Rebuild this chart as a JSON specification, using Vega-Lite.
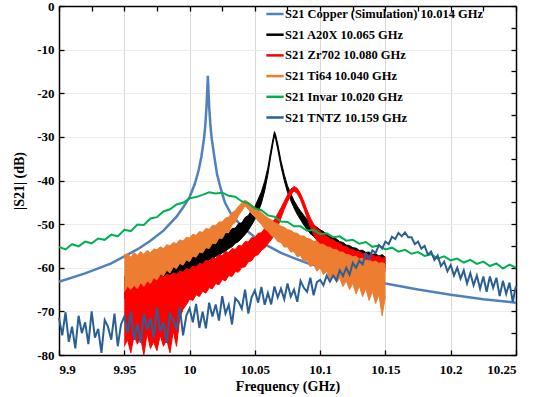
{
"$schema": "https://vega.github.io/schema/vega-lite/v6.json",
"width": 457, "height": 349, "autosize": "none",
"padding": {"left": 59, "top": 6, "right": 27, "bottom": 42},
"background": "white",
"config": {
 "view": {"stroke": null},
 "font": "'Liberation Serif', 'DejaVu Serif', 'Times New Roman', serif",
 "axis": {"domainColor": "#000", "domainWidth": 1.5, "tickColor": "#000", "tickWidth": 1.3, "labelFont": "'Liberation Serif', 'DejaVu Serif', 'Times New Roman', serif", "labelFontWeight": "bold", "labelFontSize": 13, "labelColor": "#000", "titleFont": "'Liberation Serif', 'DejaVu Serif', 'Times New Roman', serif", "titleFontWeight": "bold", "titleFontSize": 14, "titleColor": "#000"}
},
"datasets": {
 "cu": [{"f":9.9,"v":-63.2},{"f":9.92,"v":-61.3},{"f":9.94,"v":-59.0},{"f":9.96,"v":-55.8},{"f":9.97,"v":-53.8},{"f":9.98,"v":-51.5},{"f":9.99,"v":-48.3},{"f":9.995,"v":-46.2},{"f":10.0,"v":-43.8},{"f":10.004,"v":-40.8},{"f":10.007,"v":-37.6},{"f":10.009,"v":-34.6},{"f":10.011,"v":-30.5},{"f":10.012,"v":-27.5},{"f":10.013,"v":-23.0},{"f":10.014,"v":-16.0},{"f":10.015,"v":-23.0},{"f":10.016,"v":-27.5},{"f":10.017,"v":-30.5},{"f":10.019,"v":-34.6},{"f":10.021,"v":-38.5},{"f":10.024,"v":-42.0},{"f":10.027,"v":-45.0},{"f":10.032,"v":-47.8},{"f":10.037,"v":-49.5},{"f":10.043,"v":-51.3},{"f":10.05,"v":-53.0},{"f":10.06,"v":-55.0},{"f":10.07,"v":-56.6},{"f":10.08,"v":-57.8},{"f":10.09,"v":-58.9},{"f":10.1,"v":-59.8},{"f":10.12,"v":-61.5},{"f":10.15,"v":-63.6},{"f":10.175,"v":-65.0},{"f":10.2,"v":-66.2},{"f":10.225,"v":-67.2},{"f":10.25,"v":-68.0}],
 "a20x": [{"f":9.95,"h":-62.0,"l":-67.0},{"f":9.96,"h":-61.5,"l":-66.5},{"f":9.97,"h":-61.0,"l":-65.5},{"f":9.9775,"h":-60.5,"l":-64.5},{"f":9.98,"h":-60.2,"l":-64.0},{"f":9.9825,"h":-59.4,"l":-63.8},{"f":9.985,"h":-59.8,"l":-63.0},{"f":9.9875,"h":-58.7,"l":-62.8},{"f":9.99,"h":-59.0,"l":-62.2},{"f":9.9925,"h":-58.0,"l":-62.0},{"f":9.995,"h":-58.3,"l":-61.4},{"f":9.9975,"h":-57.2,"l":-61.2},{"f":10.0,"h":-57.4,"l":-60.6},{"f":10.0025,"h":-56.4,"l":-60.4},{"f":10.005,"h":-56.6,"l":-59.8},{"f":10.0075,"h":-55.6,"l":-59.6},{"f":10.01,"h":-55.8,"l":-59.0},{"f":10.0125,"h":-54.7,"l":-58.8},{"f":10.015,"h":-54.9,"l":-58.2},{"f":10.0175,"h":-53.9,"l":-58.0},{"f":10.02,"h":-54.0,"l":-57.4},{"f":10.0225,"h":-53.0,"l":-57.1},{"f":10.025,"h":-53.1,"l":-56.6},{"f":10.0275,"h":-52.1,"l":-56.2},{"f":10.03,"h":-52.1,"l":-55.6},{"f":10.0325,"h":-51.0,"l":-55.2},{"f":10.035,"h":-50.9,"l":-54.4},{"f":10.0375,"h":-49.9,"l":-54.0},{"f":10.04,"h":-49.7,"l":-53.2},{"f":10.0425,"h":-48.5,"l":-52.4},{"f":10.045,"h":-48.0,"l":-51.4},{"f":10.0475,"h":-46.8,"l":-50.2},{"f":10.05,"h":-46.0,"l":-48.9},{"f":10.0525,"h":-44.3,"l":-47.2},{"f":10.055,"h":-42.6,"l":-45.2},{"f":10.0575,"h":-40.2,"l":-42.4},{"f":10.06,"h":-37.0,"l":-38.6},{"f":10.062,"h":-33.5,"l":-34.8},{"f":10.064,"h":-30.3,"l":-31.3},{"f":10.065,"h":-28.8,"l":-29.8},{"f":10.066,"h":-29.6,"l":-30.6},{"f":10.0675,"h":-31.6,"l":-32.8},{"f":10.07,"h":-35.5,"l":-36.8},{"f":10.0725,"h":-38.6,"l":-40.0},{"f":10.075,"h":-41.2,"l":-42.7},{"f":10.0775,"h":-43.0,"l":-44.6},{"f":10.08,"h":-44.6,"l":-46.3},{"f":10.0825,"h":-45.9,"l":-47.8},{"f":10.085,"h":-47.0,"l":-49.0},{"f":10.0875,"h":-48.0,"l":-50.2},{"f":10.09,"h":-48.8,"l":-51.2},{"f":10.0925,"h":-49.5,"l":-52.2},{"f":10.095,"h":-50.2,"l":-52.8},{"f":10.0975,"h":-50.7,"l":-53.6},{"f":10.1,"h":-51.3,"l":-54.0},{"f":10.1025,"h":-51.7,"l":-54.7},{"f":10.105,"h":-52.3,"l":-55.0},{"f":10.1075,"h":-52.6,"l":-55.6},{"f":10.11,"h":-53.2,"l":-55.8},{"f":10.1125,"h":-53.4,"l":-56.5},{"f":10.115,"h":-54.0,"l":-56.6},{"f":10.1175,"h":-54.2,"l":-57.2},{"f":10.12,"h":-54.8,"l":-57.2},{"f":10.1225,"h":-54.9,"l":-57.9},{"f":10.125,"h":-55.4,"l":-57.8},{"f":10.1275,"h":-55.5,"l":-58.5},{"f":10.13,"h":-56.0,"l":-58.4},{"f":10.1325,"h":-56.0,"l":-59.0},{"f":10.135,"h":-56.5,"l":-58.8},{"f":10.1375,"h":-56.4,"l":-59.5},{"f":10.14,"h":-56.9,"l":-59.2},{"f":10.1425,"h":-56.8,"l":-59.9},{"f":10.145,"h":-57.3,"l":-59.6},{"f":10.1475,"h":-57.0,"l":-60.3},{"f":10.15,"h":-57.6,"l":-60.0}],
 "zr": [{"f":9.95,"h":-63.5,"l":-78.0},{"f":9.9525,"h":-63.0,"l":-76.5},{"f":9.955,"h":-63.6,"l":-79.5},{"f":9.9575,"h":-62.8,"l":-75.5},{"f":9.96,"h":-63.2,"l":-77.5},{"f":9.9625,"h":-62.5,"l":-76.0},{"f":9.965,"h":-63.0,"l":-80.0},{"f":9.9675,"h":-62.3,"l":-75.0},{"f":9.97,"h":-62.7,"l":-78.5},{"f":9.9725,"h":-62.0,"l":-77.0},{"f":9.975,"h":-62.4,"l":-79.0},{"f":9.9775,"h":-61.8,"l":-75.5},{"f":9.98,"h":-62.2,"l":-78.0},{"f":9.9825,"h":-61.5,"l":-76.5},{"f":9.985,"h":-61.8,"l":-79.5},{"f":9.9875,"h":-61.2,"l":-74.5},{"f":9.99,"h":-61.5,"l":-78.0},{"f":9.9925,"h":-60.8,"l":-71.5},{"f":9.995,"h":-61.0,"l":-69.5},{"f":9.9975,"h":-60.2,"l":-68.5},{"f":10.0,"h":-60.4,"l":-67.2},{"f":10.0025,"h":-59.6,"l":-67.5},{"f":10.005,"h":-59.8,"l":-66.2},{"f":10.0075,"h":-59.0,"l":-66.6},{"f":10.01,"h":-59.2,"l":-65.4},{"f":10.0125,"h":-58.3,"l":-65.8},{"f":10.015,"h":-58.5,"l":-64.6},{"f":10.0175,"h":-57.7,"l":-64.8},{"f":10.02,"h":-57.9,"l":-63.6},{"f":10.0225,"h":-57.0,"l":-63.9},{"f":10.025,"h":-57.2,"l":-62.7},{"f":10.0275,"h":-56.3,"l":-63.0},{"f":10.03,"h":-56.5,"l":-61.8},{"f":10.0325,"h":-55.6,"l":-62.0},{"f":10.035,"h":-55.8,"l":-60.9},{"f":10.0375,"h":-54.9,"l":-61.0},{"f":10.04,"h":-55.0,"l":-59.9},{"f":10.0425,"h":-54.0,"l":-59.8},{"f":10.045,"h":-54.1,"l":-58.6},{"f":10.0475,"h":-53.1,"l":-58.4},{"f":10.05,"h":-53.1,"l":-57.3},{"f":10.0525,"h":-52.1,"l":-57.0},{"f":10.055,"h":-52.0,"l":-56.0},{"f":10.0575,"h":-51.0,"l":-55.5},{"f":10.06,"h":-50.8,"l":-54.5},{"f":10.0625,"h":-49.8,"l":-53.6},{"f":10.065,"h":-49.0,"l":-52.4},{"f":10.0675,"h":-47.6,"l":-50.6},{"f":10.07,"h":-46.3,"l":-48.6},{"f":10.0725,"h":-44.8,"l":-46.6},{"f":10.075,"h":-43.3,"l":-44.9},{"f":10.0775,"h":-42.0,"l":-43.3},{"f":10.08,"h":-41.4,"l":-42.4},{"f":10.0825,"h":-41.8,"l":-43.0},{"f":10.085,"h":-43.0,"l":-44.4},{"f":10.0875,"h":-44.8,"l":-46.4},{"f":10.09,"h":-46.8,"l":-48.5},{"f":10.0925,"h":-48.6,"l":-50.6},{"f":10.095,"h":-50.0,"l":-52.3},{"f":10.0975,"h":-51.0,"l":-53.8},{"f":10.1,"h":-51.6,"l":-54.8},{"f":10.1025,"h":-52.3,"l":-55.8},{"f":10.105,"h":-52.7,"l":-56.3},{"f":10.1075,"h":-53.3,"l":-57.0},{"f":10.11,"h":-53.6,"l":-57.2},{"f":10.1125,"h":-54.2,"l":-57.9},{"f":10.115,"h":-54.4,"l":-58.0},{"f":10.1175,"h":-55.0,"l":-58.7},{"f":10.12,"h":-55.1,"l":-58.7},{"f":10.1225,"h":-55.7,"l":-59.4},{"f":10.125,"h":-55.8,"l":-59.3},{"f":10.1275,"h":-56.3,"l":-60.0},{"f":10.13,"h":-56.3,"l":-59.8},{"f":10.1325,"h":-56.8,"l":-60.5},{"f":10.135,"h":-56.7,"l":-60.2},{"f":10.1375,"h":-57.2,"l":-60.8},{"f":10.14,"h":-57.0,"l":-60.4},{"f":10.1425,"h":-57.5,"l":-61.0},{"f":10.145,"h":-57.3,"l":-60.6},{"f":10.1475,"h":-57.8,"l":-61.2},{"f":10.15,"h":-57.6,"l":-60.8}],
 "ti": [{"f":9.95,"h":-57.0,"l":-65.5},{"f":9.9525,"h":-56.8,"l":-64.2},{"f":9.955,"h":-57.6,"l":-65.0},{"f":9.9575,"h":-56.5,"l":-64.0},{"f":9.96,"h":-57.2,"l":-64.8},{"f":9.9625,"h":-56.3,"l":-63.4},{"f":9.965,"h":-56.9,"l":-64.3},{"f":9.9675,"h":-56.0,"l":-63.0},{"f":9.97,"h":-56.6,"l":-63.6},{"f":9.9725,"h":-55.7,"l":-62.3},{"f":9.975,"h":-55.9,"l":-62.8},{"f":9.9775,"h":-55.2,"l":-61.5},{"f":9.98,"h":-55.6,"l":-61.8},{"f":9.9825,"h":-54.7,"l":-60.6},{"f":9.985,"h":-55.0,"l":-61.2},{"f":9.9875,"h":-54.2,"l":-59.8},{"f":9.99,"h":-54.5,"l":-60.2},{"f":9.9925,"h":-53.6,"l":-59.0},{"f":9.995,"h":-53.9,"l":-59.4},{"f":9.9975,"h":-53.0,"l":-58.2},{"f":10.0,"h":-53.2,"l":-58.6},{"f":10.0025,"h":-52.3,"l":-57.3},{"f":10.005,"h":-52.6,"l":-57.6},{"f":10.0075,"h":-51.7,"l":-56.4},{"f":10.01,"h":-51.9,"l":-56.6},{"f":10.0125,"h":-51.0,"l":-55.4},{"f":10.015,"h":-51.2,"l":-55.6},{"f":10.0175,"h":-50.3,"l":-54.4},{"f":10.02,"h":-50.4,"l":-54.5},{"f":10.0225,"h":-49.5,"l":-53.2},{"f":10.025,"h":-49.5,"l":-53.3},{"f":10.0275,"h":-48.6,"l":-51.9},{"f":10.03,"h":-48.4,"l":-51.8},{"f":10.0325,"h":-47.4,"l":-50.2},{"f":10.035,"h":-46.9,"l":-49.6},{"f":10.0375,"h":-45.9,"l":-48.0},{"f":10.04,"h":-45.1,"l":-47.0},{"f":10.0425,"h":-44.5,"l":-45.8},{"f":10.045,"h":-45.0,"l":-46.6},{"f":10.0475,"h":-45.6,"l":-47.6},{"f":10.05,"h":-46.2,"l":-48.3},{"f":10.0525,"h":-46.8,"l":-49.3},{"f":10.055,"h":-47.4,"l":-50.0},{"f":10.0575,"h":-48.0,"l":-51.1},{"f":10.06,"h":-48.6,"l":-51.6},{"f":10.0625,"h":-49.0,"l":-52.6},{"f":10.065,"h":-49.6,"l":-53.0},{"f":10.0675,"h":-49.9,"l":-54.0},{"f":10.07,"h":-50.5,"l":-54.2},{"f":10.0725,"h":-50.7,"l":-55.3},{"f":10.075,"h":-51.3,"l":-55.2},{"f":10.0775,"h":-51.4,"l":-56.4},{"f":10.08,"h":-52.0,"l":-56.3},{"f":10.0825,"h":-52.1,"l":-57.5},{"f":10.085,"h":-52.7,"l":-57.2},{"f":10.0875,"h":-52.7,"l":-58.6},{"f":10.09,"h":-53.3,"l":-58.2},{"f":10.0925,"h":-53.4,"l":-59.8},{"f":10.095,"h":-54.0,"l":-59.2},{"f":10.0975,"h":-54.0,"l":-60.8},{"f":10.1,"h":-54.6,"l":-60.0},{"f":10.1025,"h":-54.6,"l":-61.6},{"f":10.105,"h":-55.2,"l":-60.8},{"f":10.1075,"h":-55.3,"l":-62.6},{"f":10.11,"h":-55.8,"l":-61.6},{"f":10.1125,"h":-55.8,"l":-63.4},{"f":10.115,"h":-56.4,"l":-62.4},{"f":10.1175,"h":-56.4,"l":-64.3},{"f":10.12,"h":-57.0,"l":-63.0},{"f":10.1225,"h":-57.0,"l":-65.0},{"f":10.125,"h":-57.5,"l":-63.6},{"f":10.1275,"h":-57.4,"l":-66.0},{"f":10.13,"h":-58.0,"l":-64.2},{"f":10.1325,"h":-57.8,"l":-66.6},{"f":10.135,"h":-58.3,"l":-64.8},{"f":10.1375,"h":-58.2,"l":-67.5},{"f":10.14,"h":-58.7,"l":-65.4},{"f":10.1425,"h":-58.5,"l":-68.2},{"f":10.145,"h":-59.0,"l":-66.2},{"f":10.1475,"h":-58.8,"l":-71.0},{"f":10.15,"h":-59.2,"l":-66.5}],
 "invar": [{"f":9.9,"v":-55.2},{"f":9.905,"v":-55.8},{"f":9.91,"v":-54.6},{"f":9.915,"v":-55.1},{"f":9.92,"v":-54.0},{"f":9.925,"v":-54.4},{"f":9.93,"v":-53.3},{"f":9.935,"v":-53.6},{"f":9.94,"v":-52.4},{"f":9.945,"v":-52.8},{"f":9.95,"v":-51.3},{"f":9.955,"v":-51.6},{"f":9.96,"v":-50.1},{"f":9.965,"v":-50.2},{"f":9.97,"v":-48.7},{"f":9.975,"v":-48.4},{"f":9.98,"v":-47.1},{"f":9.985,"v":-46.6},{"f":9.99,"v":-45.5},{"f":9.995,"v":-45.1},{"f":10.0,"v":-44.1},{"f":10.005,"v":-43.8},{"f":10.01,"v":-43.3},{"f":10.015,"v":-42.7},{"f":10.02,"v":-43.0},{"f":10.025,"v":-42.8},{"f":10.03,"v":-43.5},{"f":10.035,"v":-43.7},{"f":10.04,"v":-44.8},{"f":10.045,"v":-45.2},{"f":10.05,"v":-46.4},{"f":10.055,"v":-46.8},{"f":10.06,"v":-48.0},{"f":10.065,"v":-48.3},{"f":10.07,"v":-49.4},{"f":10.075,"v":-49.5},{"f":10.08,"v":-50.5},{"f":10.085,"v":-50.5},{"f":10.09,"v":-51.5},{"f":10.095,"v":-51.3},{"f":10.1,"v":-52.3},{"f":10.105,"v":-52.1},{"f":10.11,"v":-53.0},{"f":10.115,"v":-52.8},{"f":10.12,"v":-53.8},{"f":10.125,"v":-53.6},{"f":10.13,"v":-54.5},{"f":10.135,"v":-54.1},{"f":10.14,"v":-55.2},{"f":10.145,"v":-54.9},{"f":10.15,"v":-55.8},{"f":10.155,"v":-55.4},{"f":10.16,"v":-56.3},{"f":10.165,"v":-55.9},{"f":10.17,"v":-56.8},{"f":10.175,"v":-56.4},{"f":10.18,"v":-57.3},{"f":10.185,"v":-56.9},{"f":10.19,"v":-57.9},{"f":10.195,"v":-57.4},{"f":10.2,"v":-58.3},{"f":10.205,"v":-57.9},{"f":10.21,"v":-58.8},{"f":10.215,"v":-58.2},{"f":10.22,"v":-59.1},{"f":10.225,"v":-58.6},{"f":10.23,"v":-59.6},{"f":10.235,"v":-59.0},{"f":10.24,"v":-60.2},{"f":10.245,"v":-59.3},{"f":10.25,"v":-60.0}],
 "tntz": [{"f":9.9,"v":-71.5},{"f":9.9025,"v":-75.5},{"f":9.905,"v":-70.2},{"f":9.9075,"v":-77.0},{"f":9.91,"v":-73.5},{"f":9.9125,"v":-78.5},{"f":9.915,"v":-71.0},{"f":9.9175,"v":-75.0},{"f":9.92,"v":-72.5},{"f":9.9225,"v":-77.5},{"f":9.925,"v":-70.0},{"f":9.9275,"v":-76.0},{"f":9.93,"v":-74.0},{"f":9.9325,"v":-79.5},{"f":9.935,"v":-72.0},{"f":9.9375,"v":-73.5},{"f":9.94,"v":-76.5},{"f":9.9425,"v":-70.5},{"f":9.945,"v":-78.0},{"f":9.9475,"v":-73.0},{"f":9.95,"v":-71.2},{"f":9.9525,"v":-75.0},{"f":9.955,"v":-70.0},{"f":9.9575,"v":-76.5},{"f":9.96,"v":-72.8},{"f":9.9625,"v":-77.2},{"f":9.965,"v":-70.5},{"f":9.9675,"v":-74.2},{"f":9.97,"v":-71.5},{"f":9.9725,"v":-76.0},{"f":9.975,"v":-69.2},{"f":9.9775,"v":-74.6},{"f":9.98,"v":-72.4},{"f":9.9825,"v":-77.2},{"f":9.985,"v":-70.6},{"f":9.9875,"v":-72.0},{"f":9.99,"v":-74.2},{"f":9.9925,"v":-69.0},{"f":9.995,"v":-75.5},{"f":9.9975,"v":-71.0},{"f":10.0,"v":-69.3},{"f":10.0025,"v":-72.5},{"f":10.005,"v":-68.3},{"f":10.0075,"v":-73.8},{"f":10.01,"v":-70.1},{"f":10.0125,"v":-73.9},{"f":10.015,"v":-68.0},{"f":10.0175,"v":-71.2},{"f":10.02,"v":-68.4},{"f":10.0225,"v":-72.1},{"f":10.025,"v":-66.5},{"f":10.0275,"v":-70.5},{"f":10.03,"v":-68.5},{"f":10.0325,"v":-73.0},{"f":10.035,"v":-67.0},{"f":10.0375,"v":-67.8},{"f":10.04,"v":-69.4},{"f":10.0425,"v":-65.0},{"f":10.045,"v":-70.5},{"f":10.0475,"v":-66.8},{"f":10.05,"v":-65.2},{"f":10.0525,"v":-68.0},{"f":10.055,"v":-64.4},{"f":10.0575,"v":-68.5},{"f":10.06,"v":-65.8},{"f":10.0625,"v":-68.4},{"f":10.065,"v":-64.3},{"f":10.0675,"v":-66.8},{"f":10.07,"v":-64.8},{"f":10.0725,"v":-67.2},{"f":10.075,"v":-63.6},{"f":10.0775,"v":-66.6},{"f":10.08,"v":-65.0},{"f":10.0825,"v":-67.8},{"f":10.085,"v":-63.0},{"f":10.0875,"v":-64.6},{"f":10.09,"v":-65.5},{"f":10.0925,"v":-62.3},{"f":10.095,"v":-66.3},{"f":10.0975,"v":-63.3},{"f":10.1,"v":-62.8},{"f":10.1025,"v":-64.0},{"f":10.105,"v":-61.8},{"f":10.1075,"v":-63.2},{"f":10.11,"v":-61.8},{"f":10.1125,"v":-62.9},{"f":10.115,"v":-60.6},{"f":10.1175,"v":-61.9},{"f":10.12,"v":-60.0},{"f":10.1225,"v":-61.6},{"f":10.125,"v":-58.9},{"f":10.1275,"v":-60.0},{"f":10.13,"v":-58.4},{"f":10.1325,"v":-59.2},{"f":10.135,"v":-56.8},{"f":10.1375,"v":-58.0},{"f":10.14,"v":-56.0},{"f":10.1425,"v":-56.6},{"f":10.145,"v":-54.8},{"f":10.1475,"v":-55.6},{"f":10.15,"v":-54.0},{"f":10.1525,"v":-54.6},{"f":10.155,"v":-52.9},{"f":10.1575,"v":-53.4},{"f":10.16,"v":-52.0},{"f":10.1625,"v":-52.8},{"f":10.165,"v":-51.9},{"f":10.1675,"v":-53.0},{"f":10.17,"v":-53.0},{"f":10.1725,"v":-54.6},{"f":10.175,"v":-54.0},{"f":10.1775,"v":-55.6},{"f":10.18,"v":-55.0},{"f":10.1825,"v":-57.0},{"f":10.185,"v":-56.3},{"f":10.1875,"v":-58.2},{"f":10.19,"v":-57.2},{"f":10.1925,"v":-59.6},{"f":10.195,"v":-58.6},{"f":10.1975,"v":-60.8},{"f":10.2,"v":-59.4},{"f":10.2025,"v":-61.8},{"f":10.205,"v":-60.0},{"f":10.2075,"v":-62.5},{"f":10.21,"v":-60.6},{"f":10.2125,"v":-63.6},{"f":10.215,"v":-61.2},{"f":10.2175,"v":-64.0},{"f":10.22,"v":-61.8},{"f":10.2225,"v":-64.8},{"f":10.225,"v":-62.0},{"f":10.2275,"v":-65.5},{"f":10.23,"v":-62.0},{"f":10.2325,"v":-64.6},{"f":10.235,"v":-62.3},{"f":10.2375,"v":-66.5},{"f":10.24,"v":-63.0},{"f":10.2425,"v":-66.0},{"f":10.245,"v":-63.4},{"f":10.2475,"v":-67.8},{"f":10.25,"v":-64.2}]
},
"resolve": {"axis": {"x": "independent", "y": "independent"}},
"layer": [
 {
  "layer": [
   {"data": {"name": "cu"}, "mark": {"type": "line", "strokeWidth": 2.5},
    "encoding": {
     "x": {"field": "f", "type": "quantitative", "title": "Frequency (GHz)", "scale": {"domain": [9.9, 10.25], "nice": false, "zero": false},
       "axis": {"values": [9.9, 9.925, 9.95, 9.975, 10, 10.025, 10.05, 10.075, 10.1, 10.125, 10.15, 10.175, 10.2, 10.225, 10.25], "tickSize": -5, "labelPadding": 13, "titlePadding": 3,
         "labelExpr": "abs(datum.value*20 - round(datum.value*20)) < 0.001 ? toString(datum.value) : ''",
         "grid": true, "gridColor": "#d9d9d9", "gridWidth": 1,
         "gridOpacity": {"condition": {"test": "abs(datum.value*20 - round(datum.value*20)) > 0.001", "value": 0}, "value": 1}}},
     "y": {"field": "v", "type": "quantitative", "title": "|S21| (dB)", "scale": {"domain": [-80, 0], "nice": false, "zero": false},
       "axis": {"values": [-80, -75, -70, -65, -60, -55, -50, -45, -40, -35, -30, -25, -20, -15, -10, -5, 0], "tickSize": -5, "labelPadding": 10, "titlePadding": 10,
         "labelExpr": "datum.value % 10 == 0 ? toString(datum.value) : ''",
         "grid": true, "gridColor": "#ececec", "gridWidth": 1,
         "gridOpacity": {"condition": {"test": "datum.value % 10 != 0", "value": 0}, "value": 1}}},
     "color": {"datum": "S21 Copper (Simulation) 10.014 GHz", "type": "nominal",
       "scale": {"domain": ["S21 Copper (Simulation) 10.014 GHz", "S21 A20X 10.065 GHz", "S21 Zr702 10.080 GHz", "S21 Ti64 10.040 GHz", "S21 Invar 10.020 GHz", "S21 TNTZ 10.159 GHz"], "range": ["#4F81BD", "#000000", "#FF0000", "#ED7D31", "#00B050", "#2A5F95"]},
       "legend": {"orient": "none", "legendX": 206, "legendY": -2, "title": null, "symbolType": "stroke", "symbolSize": 300, "symbolStrokeWidth": 2.5, "labelFont": "'Liberation Serif', 'DejaVu Serif', 'Times New Roman', serif", "labelFontSize": 12.5, "labelFontWeight": "bold", "labelColor": "#000", "rowPadding": 3.7, "labelOffset": 0, "labelLimit": 500, "padding": 0}}
    }},
   {"data": {"name": "a20x"}, "mark": {"type": "area", "color": "#000000"},
    "encoding": {"x": {"field": "f", "type": "quantitative"}, "y": {"field": "h", "type": "quantitative"}, "y2": {"field": "l"}}},
   {"data": {"name": "a20x"}, "mark": {"type": "line", "strokeWidth": 1},
    "encoding": {"x": {"field": "f", "type": "quantitative"}, "y": {"field": "h", "type": "quantitative"}, "color": {"datum": "S21 A20X 10.065 GHz"}}},
   {"data": {"name": "a20x"}, "mark": {"type": "line", "strokeWidth": 1},
    "encoding": {"x": {"field": "f", "type": "quantitative"}, "y": {"field": "l", "type": "quantitative"}, "color": {"datum": "S21 A20X 10.065 GHz"}}},
   {"data": {"name": "zr"}, "mark": {"type": "area", "color": "#FF0000"},
    "encoding": {"x": {"field": "f", "type": "quantitative"}, "y": {"field": "h", "type": "quantitative"}, "y2": {"field": "l"}}},
   {"data": {"name": "zr"}, "mark": {"type": "line", "strokeWidth": 1},
    "encoding": {"x": {"field": "f", "type": "quantitative"}, "y": {"field": "h", "type": "quantitative"}, "color": {"datum": "S21 Zr702 10.080 GHz"}}},
   {"data": {"name": "zr"}, "mark": {"type": "line", "strokeWidth": 1},
    "encoding": {"x": {"field": "f", "type": "quantitative"}, "y": {"field": "l", "type": "quantitative"}, "color": {"datum": "S21 Zr702 10.080 GHz"}}},
   {"data": {"name": "ti"}, "mark": {"type": "area", "color": "#ED7D31"},
    "encoding": {"x": {"field": "f", "type": "quantitative"}, "y": {"field": "h", "type": "quantitative"}, "y2": {"field": "l"}}},
   {"data": {"name": "ti"}, "mark": {"type": "line", "strokeWidth": 1},
    "encoding": {"x": {"field": "f", "type": "quantitative"}, "y": {"field": "h", "type": "quantitative"}, "color": {"datum": "S21 Ti64 10.040 GHz"}}},
   {"data": {"name": "ti"}, "mark": {"type": "line", "strokeWidth": 1},
    "encoding": {"x": {"field": "f", "type": "quantitative"}, "y": {"field": "l", "type": "quantitative"}, "color": {"datum": "S21 Ti64 10.040 GHz"}}},
   {"data": {"name": "invar"}, "mark": {"type": "line", "strokeWidth": 2},
    "encoding": {"x": {"field": "f", "type": "quantitative"}, "y": {"field": "v", "type": "quantitative"}, "color": {"datum": "S21 Invar 10.020 GHz"}}},
   {"data": {"name": "tntz"}, "mark": {"type": "line", "strokeWidth": 2},
    "encoding": {"x": {"field": "f", "type": "quantitative"}, "y": {"field": "v", "type": "quantitative"}, "color": {"datum": "S21 TNTZ 10.159 GHz"}}}
  ]
 },
 {"data": {"name": "invar"}, "mark": {"type": "point", "opacity": 0},
  "encoding": {
   "x": {"field": "f", "type": "quantitative", "axis": {"orient": "top", "labels": false, "title": null, "grid": false, "tickSize": -5, "values": [9.9, 9.925, 9.95, 9.975, 10, 10.025, 10.05, 10.075, 10.1, 10.125, 10.15, 10.175, 10.2, 10.225, 10.25]}},
   "y": {"field": "v", "type": "quantitative", "axis": {"orient": "right", "labels": false, "title": null, "grid": false, "tickSize": -5, "values": [-80, -75, -70, -65, -60, -55, -50, -45, -40, -35, -30, -25, -20, -15, -10, -5, 0]}}
  }}
]
}
